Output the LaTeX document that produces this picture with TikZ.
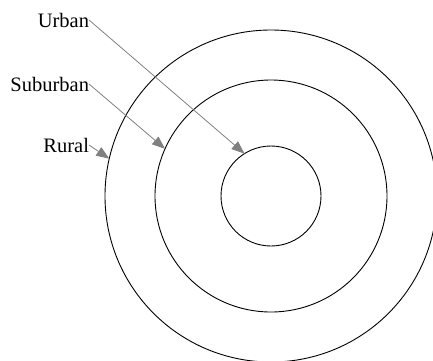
\documentclass[tikz,border=0pt]{standalone}
\usepackage{fontspec}
\setmainfont{Liberation Serif}
\usepackage{tikz}
\usetikzlibrary{arrows.meta,positioning}

\tikzset{
  ring/.style={draw,circle,line width=0.9pt,inner sep=0pt,outer sep=0pt},
  zone/.style={inner sep=0pt,outer sep=0pt,font=\fontsize{20.5}{24}\selectfont},
  pointer/.style={draw=black!50,line width=0.8pt,-{Triangle[length=13pt,width=10pt,fill=black!50]}}
}

\begin{document}
\begin{tikzpicture}[x=1pt,y=-1pt]
  \useasboundingbox (0,0) rectangle (433,360);
  \coordinate (C) at (271,196);
  \node[ring,minimum size=332pt] (rural) at (C) {};
  \node[ring,minimum size=232pt] (suburban) at (C) {};
  \node[ring,minimum size=100pt] (urban) at (C) {};
  \node[zone,anchor=base east] (lurban) at (89,27) {Urban};
  \node[zone,anchor=base east] (lsuburban) at (89,91) {Suburban};
  \node[zone,anchor=base east] (lrural) at (89,152) {Rural};
  \draw[pointer] (lurban.east) -- (urban.122);
  \draw[pointer] (lsuburban.east) -- (suburban.156);
  \draw[pointer] (lrural.east) -- (rural.167);
\end{tikzpicture}
\end{document}
